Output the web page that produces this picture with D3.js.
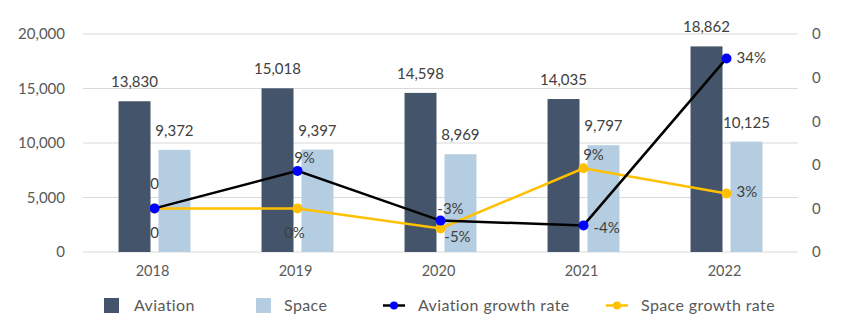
<!DOCTYPE html>
<html>
<head>
<meta charset="utf-8">
<script src="https://cdn.jsdelivr.net/npm/d3@7"></script>
<style>
  body { margin: 0; background: #fff; }
  svg { font-family: Lato, "Noto Sans", sans-serif; }
</style>
</head>
<body>
<div id="chart"></div>
<script>
// data
const years = ["2018", "2019", "2020", "2021", "2022"];
const aviation = [13830, 15018, 14598, 14035, 18862];
const space = [9372, 9397, 8969, 9797, 10125];
const aviationGrowth = [0, 0.086, -0.028, -0.039, 0.344];
const spaceGrowth = [0, 0, -0.046, 0.092, 0.034];
const aviationGrowthLabels = ["0", "9%", "-3%", "-4%", "34%"];
const spaceGrowthLabels = ["0", "0%", "-5%", "9%", "3%"];
const leftTicks = [0, 5000, 10000, 15000, 20000];
const rightTicks = [-0.1, 0, 0.1, 0.2, 0.3, 0.4];

// label placement (dx, dy from point, anchor)
const avLabelPos = [[0, -19, "middle"], [7, -8, "middle"], [10, -7, "middle"], [10, 8, "start"], [10, 5, "start"]];
const spLabelPos = [[0, 30, "middle"], [-3, 30, "middle"], [17, 14, "middle"], [10, -8, "middle"], [10, 3, "start"]];

const W = 850, H = 331;
const plot = { left: 83, right: 798, top: 34, bottom: 252 };

const svg = d3.select("#chart").append("svg")
  .attr("width", W).attr("height", H);

const x0 = d3.scaleBand().domain(years)
  .range([plot.left, plot.right]).paddingInner(0.497).paddingOuter(0.2485);
const x1 = d3.scaleBand().domain(["Aviation", "Space"])
  .range([0, x0.bandwidth()]).paddingInner(0.2);
const y = d3.scaleLinear().domain([0, 20000]).range([plot.bottom, plot.top]);
const y2 = d3.scaleLinear().domain([-0.1, 0.4]).range([plot.bottom, plot.top]);

const cx = yr => x0(yr) + x0.bandwidth() / 2;

// gridlines
svg.append("g").selectAll("line").data(leftTicks).join("line")
  .attr("x1", plot.left).attr("x2", plot.right)
  .attr("y1", d => y(d)).attr("y2", d => y(d))
  .attr("stroke", "#d9d9d9").attr("stroke-width", 1);

// left axis
const leftAxis = svg.append("g")
  .attr("transform", `translate(${plot.left},0)`)
  .call(d3.axisLeft(y).tickValues(leftTicks).tickFormat(d3.format(",")).tickSize(0).tickPadding(18));
leftAxis.select(".domain").remove();
leftAxis.selectAll("text").attr("fill", "#595959").style("font-size", "15px")
  .style("font-family", "Lato, sans-serif");

// right axis
const rightAxis = svg.append("g")
  .attr("transform", `translate(${plot.right},0)`)
  .call(d3.axisRight(y2).tickValues(rightTicks).tickFormat(d => String(Math.round(d))).tickSize(0).tickPadding(14));
rightAxis.select(".domain").remove();
rightAxis.selectAll("text").attr("fill", "#595959").style("font-size", "15px")
  .style("font-family", "Lato, sans-serif");

// x axis labels
svg.append("g").selectAll("text").data(years).join("text")
  .attr("x", d => cx(d) - 2).attr("y", 276)
  .attr("text-anchor", "middle").attr("fill", "#595959")
  .style("font-size", "14.5px").text(d => d);

// bars
const groups = years.map((yr, i) => ({ yr, vals: [
  { key: "Aviation", v: aviation[i], color: "#44546a" },
  { key: "Space", v: space[i], color: "#b5cde1" }
]}));

const g = svg.append("g").selectAll("g").data(groups).join("g")
  .attr("transform", d => `translate(${x0(d.yr)},0)`);

g.selectAll("rect").data(d => d.vals).join("rect")
  .attr("x", d => x1(d.key)).attr("width", x1.bandwidth())
  .attr("y", d => y(d.v)).attr("height", d => plot.bottom - y(d.v))
  .attr("fill", d => d.color);

g.selectAll("text").data(d => d.vals).join("text")
  .attr("x", d => x1(d.key) + x1.bandwidth() / 2)
  .attr("y", d => y(d.v) - 14)
  .attr("text-anchor", "middle").attr("fill", "#404040")
  .style("font-size", "15px").text(d => d3.format(",")(d.v));

// growth lines
function drawLine(vals, lineColor, dotColor) {
  const pts = years.map((yr, i) => [cx(yr), y2(vals[i])]);
  svg.append("path").datum(pts)
    .attr("d", d3.line())
    .attr("fill", "none").attr("stroke", lineColor).attr("stroke-width", 2.5);
  svg.append("g").selectAll("circle").data(pts).join("circle")
    .attr("cx", d => d[0]).attr("cy", d => d[1]).attr("r", 5)
    .attr("fill", dotColor);
  return pts;
}

function drawLabels(pts, labels, pos) {
  svg.append("g").selectAll("text").data(pts).join("text")
    .attr("x", (d, i) => d[0] + pos[i][0])
    .attr("y", (d, i) => d[1] + pos[i][1])
    .attr("text-anchor", (d, i) => pos[i][2])
    .attr("fill", "#404040").style("font-size", "15px")
    .text((d, i) => labels[i]);
}

const spPts = drawLine(spaceGrowth, "#ffc000", "#ffc000");
const avPts = drawLine(aviationGrowth, "#000000", "#0000ff");
drawLabels(avPts, aviationGrowthLabels, avLabelPos);
drawLabels(spPts, spaceGrowthLabels, spLabelPos);

// legend
const legend = svg.append("g").style("font-size", "16px").style("letter-spacing", "0.4px");
const legendY = 305.5;
const legendItems = [
  { label: "Aviation", type: "rect", color: "#44546a", x: 104, tx: 134 },
  { label: "Space", type: "rect", color: "#b5cde1", x: 256, tx: 284 },
  { label: "Aviation growth rate", type: "line", color: "#000000", dot: "#0000ff", x: 383, tx: 418 },
  { label: "Space growth rate", type: "line", color: "#ffc000", dot: "#ffc000", x: 606, tx: 641 }
];
legendItems.forEach(it => {
  if (it.type === "rect") {
    legend.append("rect").attr("x", it.x).attr("y", legendY - 7.5)
      .attr("width", 15).attr("height", 15).attr("fill", it.color);
  } else {
    legend.append("line").attr("x1", it.x).attr("x2", it.x + 22)
      .attr("y1", legendY).attr("y2", legendY)
      .attr("stroke", it.color).attr("stroke-width", 2.5);
    legend.append("circle").attr("cx", it.x + 11).attr("cy", legendY).attr("r", 4)
      .attr("fill", it.dot);
  }
  legend.append("text").attr("x", it.tx).attr("y", legendY + 5)
    .attr("fill", "#595959").text(it.label);
});
</script>
</body>
</html>
